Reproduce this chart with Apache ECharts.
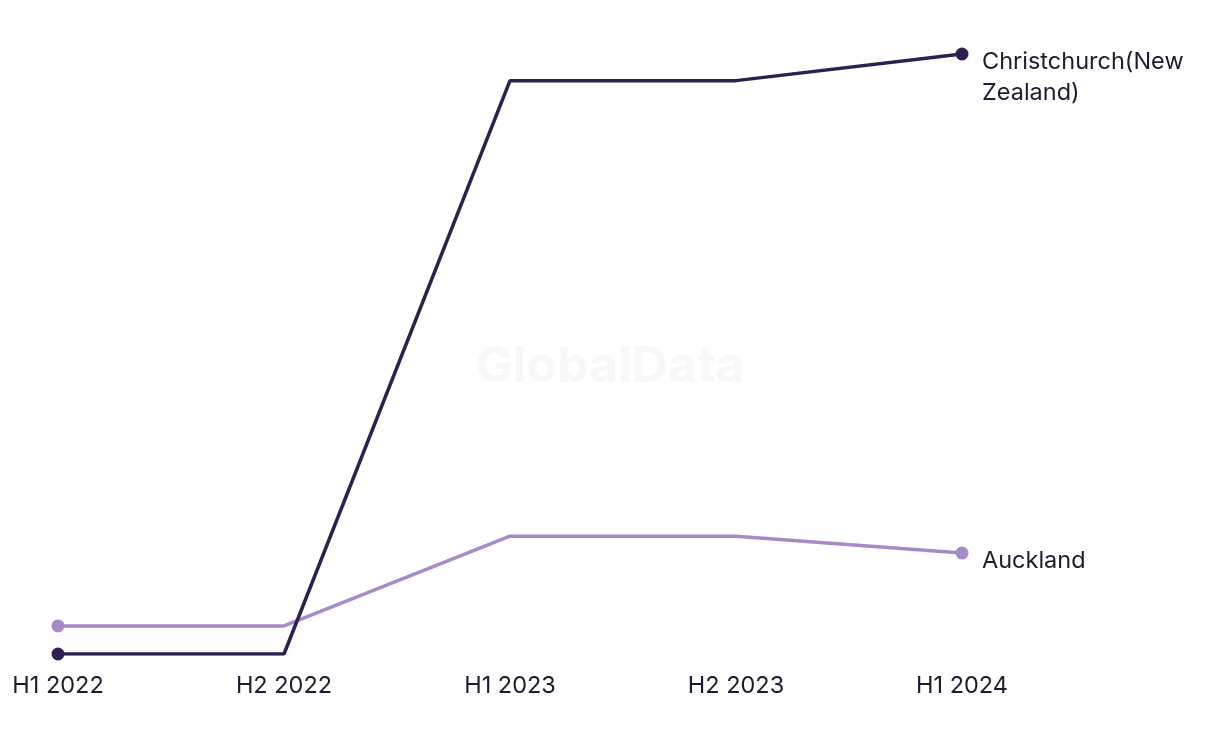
<!DOCTYPE html>
<html>
<head>
<meta charset="utf-8">
<script src="https://cdn.jsdelivr.net/npm/echarts@6/dist/echarts.min.js"></script>
<style>html,body{margin:0;padding:0;background:#fff;}#c{width:1220px;height:744px;}</style>
</head>
<body>
<div id="c"></div>
<script>
var categories = ['H1 2022', 'H2 2022', 'H1 2023', 'H2 2023', 'H1 2024'];
var christchurch = [0, 0, 20.45, 20.45, 21.4];
var auckland = [1.0, 1.0, 4.2, 4.2, 3.6];
var seriesNames = ['Christchurch(New\nZealand)', 'Auckland'];

function endpoints(arr) {
  return arr.map(function (v, i) {
    var show = (i === 0 || i === arr.length - 1);
    return { value: v, symbol: show ? 'circle' : 'none' };
  });
}

var chart = echarts.init(document.getElementById('c'));
var font = 'Inter, "Liberation Sans", sans-serif';
function mk(name, data, color, z) {
  return {
    name: name,
    type: 'line',
    data: endpoints(data),
    symbolSize: 13,
    showAllSymbol: true,
    z: z,
    lineStyle: { color: color, width: 3.5 },
    itemStyle: { color: color },
    emphasis: { disabled: true },
    endLabel: {
      show: true,
      formatter: function (p) { return p.seriesName; },
      color: '#1d1a33',
      fontFamily: font,
      fontSize: 23.5,
      lineHeight: 31,
      align: 'left',
      verticalAlign: 'top',
      distance: 20,
      offset: [0, -8]
    }
  };
}
chart.setOption({
  animation: false,
  backgroundColor: '#ffffff',
  grid: { left: 58, right: 258, top: 54, bottom: 90 },
  graphic: [{
    type: 'text', left: 'center', top: 342, z: 0,
    style: { text: 'GlobalData', fontSize: 50, fontWeight: 'bold', fontFamily: font, fill: '#f7f7f7' }
  }],
  xAxis: {
    type: 'category', data: categories, boundaryGap: false,
    axisLine: { show: false }, axisTick: { show: false }, splitLine: { show: false },
    axisLabel: { color: '#1d1a33', fontSize: 23.5, fontFamily: font, margin: 20 }
  },
  yAxis: { type: 'value', min: 0, max: 21.4, show: false, splitLine: { show: false } },
  series: [
    mk(seriesNames[1], auckland, '#a68bc6', 2),
    mk(seriesNames[0], christchurch, '#2f1f50', 3)
  ]
});
</script>
</body>
</html>
